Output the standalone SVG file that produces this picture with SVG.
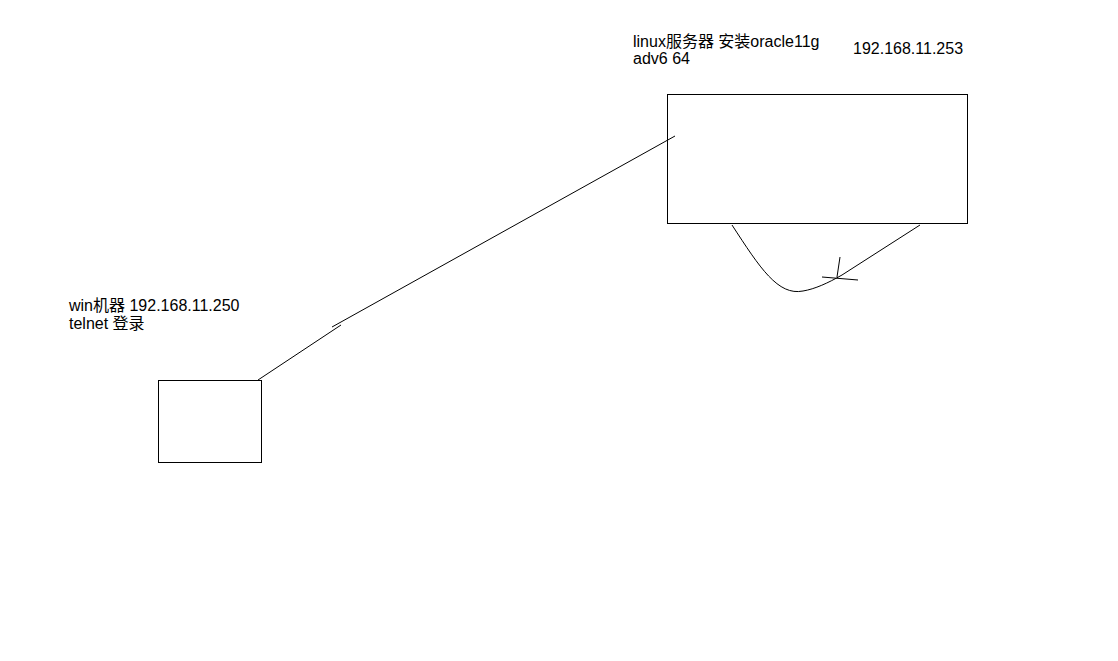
<svg xmlns="http://www.w3.org/2000/svg" width="1118" height="661" viewBox="0 0 1118 661">
<style>
.t{font-family:"Liberation Sans","Noto Sans CJK SC",sans-serif;font-size:16px;fill:#000}
.s{fill:none;stroke:#000;stroke-width:1}
</style>
<rect width="1118" height="661" fill="#fff"/>
<g id="linux-server">
<rect class="s" x="667.5" y="94.5" width="300" height="129"/>
<text class="t" x="633" y="47">linux服务器 安装oracle11g</text>
<text class="t" x="633" y="64">adv6 64</text>
<text class="t" x="853" y="54">192.168.11.253</text>
</g>
<g id="win-machine">
<rect class="s" x="158.5" y="380.5" width="103" height="82"/>
<text class="t" x="69" y="311">win机器 192.168.11.250</text>
<text class="t" x="69" y="329">telnet 登录</text>
</g>
<g id="connectors">
<path class="s" d="M258,380 L341,325"/>
<path class="s" d="M332,327 L675,136"/>
<path class="s" d="M732,225 C760,268 778,296 803,291 C815,289 828,283 842,275 L920,225"/>
<path class="s" d="M840,257 L837,277"/>
<path class="s" d="M822,277 L858,280"/>
</g>
</svg>
